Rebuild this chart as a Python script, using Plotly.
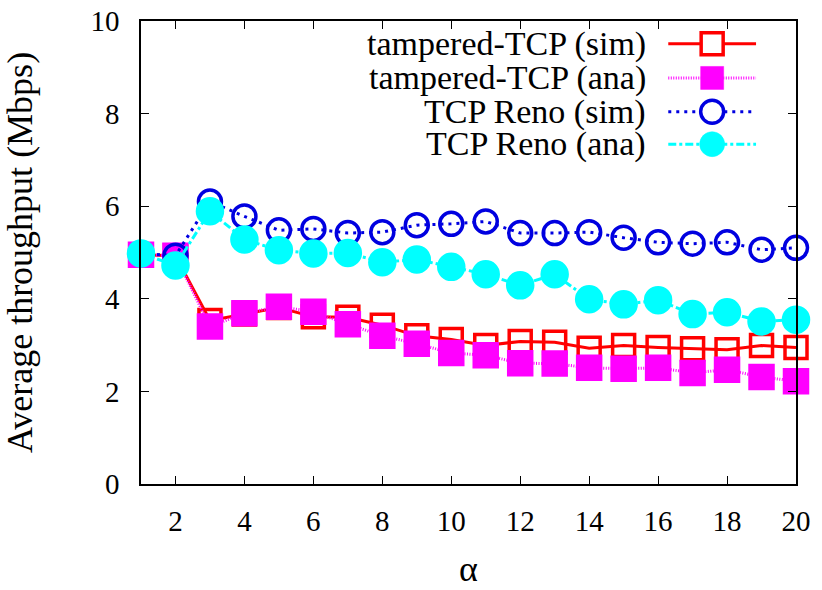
import plotly.graph_objects as go

# Average throughput versus alpha
alpha = list(range(1, 21))

tampered_sim = [4.95, 4.93, 3.53, 3.67, 3.81, 3.61, 3.60, 3.43, 3.20, 3.12,
                2.99, 3.08, 3.06, 2.93, 2.99, 2.95, 2.92, 2.90, 2.99, 2.95]
tampered_ana = [4.95, 4.93, 3.40, 3.69, 3.83, 3.72, 3.45, 3.20, 3.03, 2.83,
                2.78, 2.61, 2.60, 2.51, 2.49, 2.51, 2.40, 2.47, 2.31, 2.22]
reno_sim = [4.98, 4.93, 6.10, 5.78, 5.48, 5.51, 5.42, 5.44, 5.59, 5.62,
            5.67, 5.42, 5.42, 5.44, 5.32, 5.22, 5.19, 5.22, 5.06, 5.10]
reno_ana = [4.98, 4.72, 5.89, 5.28, 5.05, 4.98, 4.99, 4.79, 4.85, 4.69,
            4.53, 4.29, 4.53, 3.99, 3.88, 3.97, 3.67, 3.71, 3.51, 3.55]

names = ["tampered-TCP (sim)", "tampered-TCP (ana)", "TCP Reno (sim)", "TCP Reno (ana)"]
x_ticks = list(range(2, 21, 2))
y_ticks = list(range(0, 11, 2))

FONT = "Liberation Serif"

# per-series look: colour, dash, marker symbol and size
styles = [
    dict(color="#ff0000", dash="solid", symbol="square-open", size=22, lw=3),
    dict(color="#ff00ff", dash="1px,1.5px", symbol="square", size=23, lw=3),
    dict(color="#0000e0", dash="3px,5px", symbol="circle-open", size=23, lw=3),
    dict(color="#00ffff", dash="8px,3px,3px,3px", symbol="circle", size=25, lw=3),
]
series = [tampered_sim, tampered_ana, reno_sim, reno_ana]

fig = go.Figure()
for name, ys, st in zip(names, series, styles):
    fig.add_trace(go.Scatter(
        x=alpha, y=ys, name=name, mode="lines+markers",
        line=dict(color=st["color"], width=st["lw"], dash=st["dash"]),
        marker=dict(symbol=st["symbol"], size=st["size"], color=st["color"],
                    line=dict(color=st["color"], width=3.5)),
        cliponaxis=False, showlegend=False,
    ))

# key in the top-right corner: label on the left, line sample and marker on the right
key_text_x = 0.774
key_line_x0, key_line_x1, key_mark_x = 0.805, 0.939, 0.872
key_rows_y = [0.951, 0.877, 0.804, 0.734]
shapes = []
annotations = []
for name, st, ky in zip(names, styles, key_rows_y):
    annotations.append(dict(
        x=key_text_x, y=ky, xref="paper", yref="paper", text=name,
        showarrow=False, xanchor="right", yanchor="middle",
        font=dict(family=FONT, size=34),
    ))
    shapes.append(dict(
        type="line", xref="paper", yref="paper",
        x0=key_line_x0, x1=key_line_x1, y0=ky, y1=ky,
        line=dict(color=st["color"], width=st["lw"], dash=st["dash"]),
    ))
    half = st["size"] / 2
    filled = not st["symbol"].endswith("open")
    shapes.append(dict(
        type="rect" if st["symbol"].startswith("square") else "circle",
        xref="paper", yref="paper", xsizemode="pixel", ysizemode="pixel",
        xanchor=key_mark_x, yanchor=ky,
        x0=-half, x1=half, y0=-half, y1=half,
        fillcolor=st["color"] if filled else "white",
        line=dict(color=st["color"], width=3.5 if not filled else 0.5),
    ))

axis_common = dict(
    showline=True, linecolor="black", linewidth=1.5, mirror="ticks",
    ticks="inside", ticklen=8, tickwidth=1.2, tickcolor="black",
    showgrid=False, zeroline=False, automargin=False,
    tickfont=dict(family=FONT, size=29),
)

fig.update_layout(
    width=822, height=590,
    margin=dict(l=141, r=26, t=21, b=106),
    plot_bgcolor="white", paper_bgcolor="white",
    font=dict(family=FONT, color="black"),
    xaxis=dict(range=[1, 20], tickvals=x_ticks, ticklabelstandoff=10,
               title=dict(text="α", font=dict(family=FONT, size=36), standoff=20),
               **axis_common),
    yaxis=dict(range=[0, 10], tickvals=y_ticks, ticklabelstandoff=14,
               title=dict(text="Average throughput (Mbps)", font=dict(family=FONT, size=36),
                          standoff=47),
               **axis_common),
    shapes=shapes, annotations=annotations,
)

fig.write_html("out.html")
